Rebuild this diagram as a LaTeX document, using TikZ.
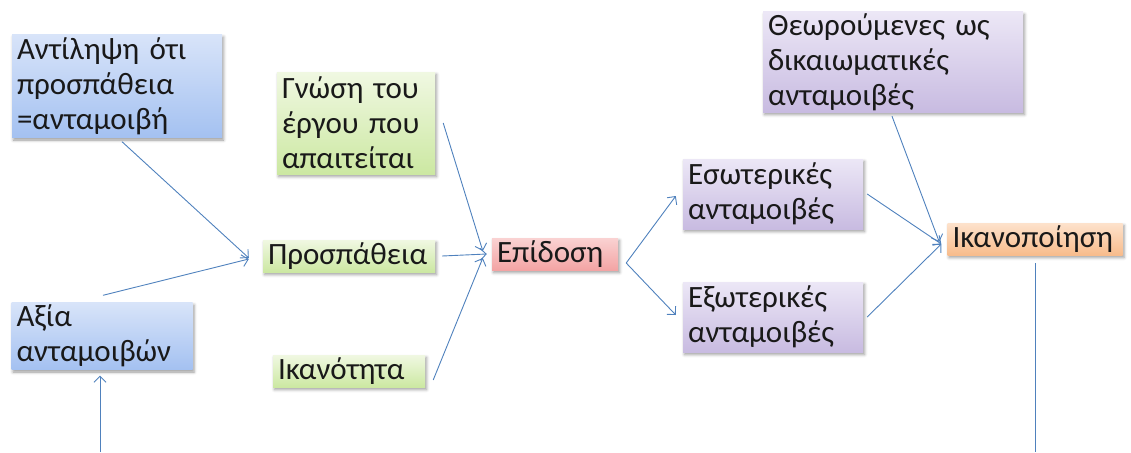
\documentclass[tikz,border=0pt]{standalone}
\usepackage{fontspec}
\setmainfont{Carlito}
\usetikzlibrary{arrows.meta,shadows.blur}
\definecolor{linkblue}{RGB}{79,129,189}
\tikzset{
    box/.style = {rectangle, inner xsep=5pt, inner ysep=0pt,
        align=left, text=black!90,
        font=\fontsize{31}{35}\selectfont,
        blur shadow={shadow xshift=1.5pt, shadow yshift=-2.5pt, shadow blur radius=3pt}},
    bluebox/.style = {box, top color={rgb,255:red,216;green,228;blue,249}, bottom color={rgb,255:red,164;green,193;blue,241}},
    greenbox/.style = {box, top color={rgb,255:red,240;green,248;blue,226}, bottom color={rgb,255:red,204;green,232;blue,162}},
    purplebox/.style = {box, top color={rgb,255:red,236;green,231;blue,246}, bottom color={rgb,255:red,200;green,187;blue,225}},
    redbox/.style = {box, top color={rgb,255:red,250;green,210;blue,210}, bottom color={rgb,255:red,243;green,164;blue,164}},
    orangebox/.style = {box, top color={rgb,255:red,253;green,226;blue,204}, bottom color={rgb,255:red,248;green,188;blue,140}},
    link/.style = {draw=linkblue, line width=0.9pt}
}

\begin{document}
\begin{tikzpicture}[x=1pt, y=-1pt, node distance=200pt, >={Straight Barb[length=6pt,width=12pt]}]
        \useasboundingbox (0,0) rectangle (1131,452);
        \node [greenbox, text width=162pt, minimum height=32pt] at (349,256) (effort) {Προσπάθεια};
        \node [greenbox, text width=148pt, minimum height=102pt, above of=effort, node distance=133pt, xshift=7pt] (know) {Γνώση του\\ έργου που\\ απαιτείται};
        \node [greenbox, text width=142pt, minimum height=32pt, below of=effort, node distance=115pt] (abil) {Ικανότητα};
        \node [bluebox, text width=200pt, minimum height=103pt, left of=effort, node distance=232pt, yshift=170pt] (perc) {Αντίληψη ότι\\ προσπάθεια\\ =ανταμοιβή};
        \node [bluebox, text width=171pt, minimum height=67pt, below of=perc, node distance=250pt, xshift=-15pt] (value) {Αξία\\ ανταμοιβών};
        \node [redbox, text width=116pt, minimum height=32pt, right of=effort, node distance=206pt, yshift=2pt] (perf) {Επίδοση};
        \node [purplebox, text width=170pt, minimum height=70pt, right of=perf, node distance=218pt, yshift=60pt] (intr) {Εσωτερικές\\ ανταμοιβές};
        \node [purplebox, text width=170pt, minimum height=70pt, below of=intr, node distance=123pt] (extr) {Εξωτερικές\\ ανταμοιβές};
        \node [purplebox, text width=250pt, minimum height=100pt, above of=intr, node distance=132pt, xshift=120pt] (theta) {Θεωρούμενες ως\\ δικαιωματικές\\ ανταμοιβές};
        \node [orangebox, text width=165pt, minimum height=32pt, right of=intr, node distance=262pt, yshift=-45pt] (sat) {Ικανοποίηση};
        \coordinate (valuein) at (100,452);
        \coordinate (satout) at (1035,452);
        \draw [link,->] ([xshift=5pt,yshift=-4pt]perc.south) -- ([xshift=-14pt,yshift=-2pt]effort.west);
        \draw [link,->] ([xshift=1pt,yshift=7pt]value.north) -- ([xshift=-14pt,yshift=-3pt]effort.west);
        \draw [link,->] (valuein) -- ([xshift=-2pt,yshift=-6pt]value.south);
        \draw [link,->] ([xshift=7pt]effort.east) -- ([xshift=-5pt]perf.west);
        \draw [link,->] ([xshift=8pt]know.east) -- ([xshift=-9pt,yshift=3pt]perf.west);
        \draw [link,->] ([xshift=8pt,yshift=-9pt]abil.east) -- ([xshift=-9pt,yshift=-4pt]perf.west);
        \draw [link,->] ([xshift=8pt,yshift=-9pt]perf.east) -- ([xshift=-7pt,yshift=-2pt]intr.west);
        \draw [link,->] ([xshift=8pt,yshift=-9pt]perf.east) -- ([xshift=-7pt,yshift=2pt]extr.west);
        \draw [link,->] ([xshift=4pt]intr.east) -- ([xshift=-6pt,yshift=-5pt]sat.west);
        \draw [link,->] ([xshift=4pt]extr.east) -- ([xshift=-6pt,yshift=-5pt]sat.west);
        \draw [link,->] ([xshift=-1pt,yshift=-4pt]theta.south) -- ([xshift=-8pt,yshift=-3pt]sat.west);
        \draw [link] ([yshift=-8pt]sat.south) -- (satout);
    \end{tikzpicture}
\end{document}
